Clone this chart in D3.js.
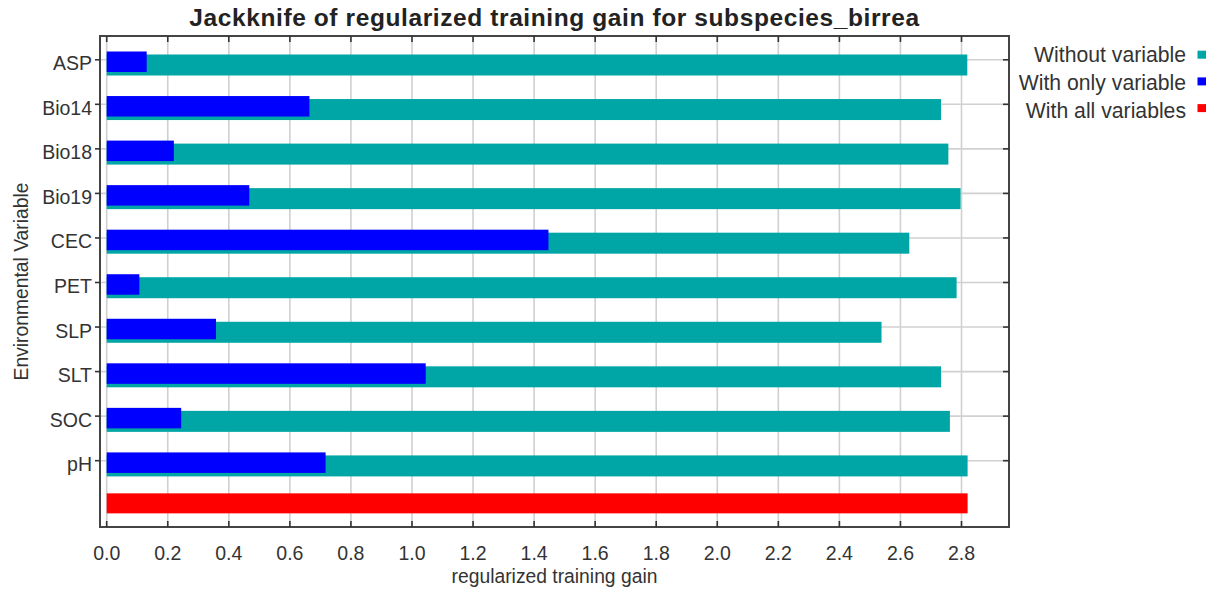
<!DOCTYPE html>
<html>
<head>
<meta charset="utf-8">
<script src="https://cdn.jsdelivr.net/npm/d3@7"></script>
<style>
  html, body { margin: 0; padding: 0; background: #fff; }
  svg { display: block; font-family: "Liberation Sans", Arial, sans-serif; }
</style>
</head>
<body>
<svg id="chart" width="1217" height="594"></svg>
<script>
// Jackknife results: gain without each variable, with only that variable, and with all.
const variables = ["ASP", "Bio14", "Bio18", "Bio19", "CEC", "PET", "SLP", "SLT", "SOC", "pH"];
const withoutVariable = [2.819, 2.733, 2.757, 2.797, 2.629, 2.784, 2.538, 2.733, 2.762, 2.820];
const withOnlyVariable = [0.131, 0.664, 0.220, 0.467, 1.447, 0.107, 0.358, 1.045, 0.244, 0.717];
const withAllVariables = [2.820];
const xTicks = [0.0, 0.2, 0.4, 0.6, 0.8, 1.0, 1.2, 1.4, 1.6, 1.8, 2.0, 2.2, 2.4, 2.6, 2.8];
const legendLabels = ["Without variable", "With only variable", "With all variables"];
const legendColors = ["#00a6a6", "#0000ff", "#ff0000"];

const svg = d3.select("#chart");
const frame = { left: 100, right: 1009, top: 36, bottom: 527 };

const x = d3.scaleLinear().domain([0, 2.8]).range([106.7, 961.5]);
const rows = variables.concat(["(all)"]);
const y = d3.scaleBand().domain(rows).range([37.5, 527.5]);
const bw = y.bandwidth();

// grid lines
const grid = svg.append("g").attr("stroke", "#d0d0d0").attr("stroke-width", 1.6);
grid.selectAll("line.v").data(xTicks).join("line")
  .attr("x1", d => x(d)).attr("x2", d => x(d))
  .attr("y1", frame.top).attr("y2", frame.bottom);
grid.selectAll("line.h").data(variables).join("line")
  .attr("x1", frame.left).attr("x2", frame.right)
  .attr("y1", d => y(d) + bw / 2).attr("y2", d => y(d) + bw / 2);

// bars: without (cyan) behind, only (blue) on top, all (red) in its own row
svg.append("g").selectAll("rect").data(variables).join("rect")
  .attr("x", x(0)).attr("y", d => y(d) + 17)
  .attr("width", (d, i) => x(withoutVariable[i]) - x(0)).attr("height", 21)
  .attr("fill", legendColors[0]);
svg.append("g").selectAll("rect").data(variables).join("rect")
  .attr("x", x(0)).attr("y", d => y(d) + 14)
  .attr("width", (d, i) => x(withOnlyVariable[i]) - x(0)).attr("height", 20.5)
  .attr("fill", legendColors[1]);
svg.append("g").selectAll("rect").data(withAllVariables).join("rect")
  .attr("x", x(0)).attr("y", y("(all)") + 10.4)
  .attr("width", d => x(d) - x(0)).attr("height", 20)
  .attr("fill", legendColors[2]);

// frame
svg.append("rect")
  .attr("x", frame.left).attr("y", frame.top)
  .attr("width", frame.right - frame.left).attr("height", frame.bottom - frame.top)
  .attr("fill", "none").attr("stroke", "#444").attr("stroke-width", 2);

// ticks
const ticks = svg.append("g").attr("stroke", "#333").attr("stroke-width", 1.6);
ticks.selectAll("line.top").data(xTicks).join("line")
  .attr("x1", d => x(d)).attr("x2", d => x(d)).attr("y1", frame.top).attr("y2", frame.top + 6);
ticks.selectAll("line.bottom").data(xTicks).join("line")
  .attr("x1", d => x(d)).attr("x2", d => x(d)).attr("y1", frame.bottom).attr("y2", frame.bottom - 6);
ticks.selectAll("line.left").data(variables).join("line")
  .attr("x1", frame.left - 5).attr("x2", frame.left)
  .attr("y1", d => y(d) + bw / 2).attr("y2", d => y(d) + bw / 2);
ticks.selectAll("line.right").data(variables).join("line")
  .attr("x1", frame.right - 6).attr("x2", frame.right)
  .attr("y1", d => y(d) + bw / 2).attr("y2", d => y(d) + bw / 2);

// tick labels
svg.append("g").selectAll("text").data(xTicks).join("text")
  .attr("x", d => x(d)).attr("y", 560)
  .attr("text-anchor", "middle").attr("font-size", 19.5).attr("fill", "#333")
  .text(d => d.toFixed(1));
svg.append("g").selectAll("text").data(variables).join("text")
  .attr("x", 92).attr("y", d => y(d) + bw / 2 + 10.5)
  .attr("text-anchor", "end").attr("font-size", 19.5).attr("fill", "#333")
  .text(d => d);

// axis titles
svg.append("text")
  .attr("x", (frame.left + frame.right) / 2).attr("y", 583)
  .attr("text-anchor", "middle").attr("font-size", 19.3).attr("fill", "#333")
  .text("regularized training gain");
svg.append("text")
  .attr("transform", "translate(28," + ((frame.top + frame.bottom) / 2) + ") rotate(-90)")
  .attr("text-anchor", "middle").attr("font-size", 19.3).attr("fill", "#333")
  .text("Environmental Variable");

// title
svg.append("text")
  .attr("x", (frame.left + frame.right) / 2).attr("y", 26)
  .attr("text-anchor", "middle").attr("font-size", 24.5).attr("font-weight", "bold")
  .attr("letter-spacing", 0.6).attr("fill", "#222")
  .text("Jackknife of regularized training gain for subspecies_birrea");

// legend
const legend = svg.append("g");
legend.selectAll("text").data(legendLabels).join("text")
  .attr("x", 1186).attr("y", (d, i) => 61.5 + i * 28)
  .attr("text-anchor", "end").attr("font-size", 21.2).attr("fill", "#333")
  .text(d => d);
legend.selectAll("rect").data(legendColors).join("rect")
  .attr("x", 1197.5).attr("y", (d, i) => 50.7 + i * 26.7)
  .attr("width", 8.5).attr("height", 8)
  .attr("fill", d => d);
</script>
</body>
</html>
